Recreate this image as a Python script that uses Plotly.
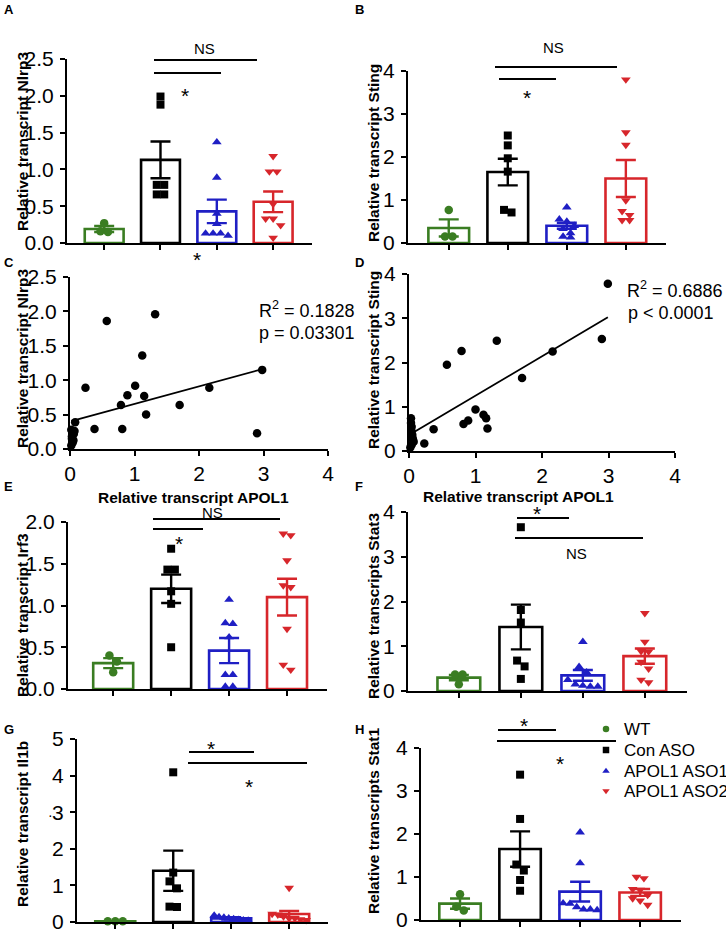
import plotly.graph_objects as go

W, H = 726, 930
FONT = "Arial, 'Liberation Sans', sans-serif"

groups = ["WT", "Con ASO", "APOL1 ASO1", "APOL1 ASO2"]
colors = ["#3a7d22", "#000000", "#1f1fc4", "#d7262b"]
symbols = ["circle", "square", "triangle-up", "triangle-down"]

# bar panels: individual mice, bar mean and SEM
nlrp3_pts = [[0.27, 0.16, 0.15],
             [1.99, 1.88, 0.79, 0.79, 0.66, 0.66],
             [1.37, 0.89, 0.40, 0.26, 0.13, 0.10, 0.13, 0.13],
             [1.18, 0.97, 0.97, 0.53, 0.33, 0.33, 0.24, 0.07]]
nlrp3_mean = [0.19, 1.13, 0.43, 0.56]
nlrp3_sem = [0.04, 0.25, 0.16, 0.14]

sting_pts = [[0.77, 0.15, 0.15],
             [2.50, 2.27, 1.97, 1.66, 0.77, 0.71],
             [0.83, 0.55, 0.50, 0.40, 0.33, 0.23, 0.13, 0.15],
             [3.80, 2.57, 2.28, 0.99, 0.74, 0.65, 0.53, 0.53]]
sting_mean = [0.35, 1.65, 0.40, 1.50]
sting_sem = [0.20, 0.31, 0.07, 0.43]

irf3_pts = [[0.40, 0.33, 0.20],
            [1.68, 1.43, 1.43, 1.17, 1.02, 0.50],
            [1.07, 0.79, 0.78, 0.62, 0.17, 0.17, 0.03, 0.03],
            [1.84, 1.86, 1.54, 1.24, 1.22, 0.72, 0.29, 0.23]]
irf3_mean = [0.31, 1.20, 0.46, 1.10]
irf3_sem = [0.06, 0.17, 0.15, 0.22]

stat3_pts = [[0.37, 0.37, 0.15],
             [3.66, 1.81, 1.53, 0.68, 0.55, 0.27],
             [1.10, 0.54, 0.42, 0.25, 0.15, 0.10, 0.10, 0.12],
             [1.74, 1.10, 0.89, 0.88, 0.65, 0.50, 0.25, 0.19]]
stat3_mean = [0.30, 1.43, 0.35, 0.78]
stat3_sem = [0.06, 0.50, 0.12, 0.17]

il1b_pts = [[0.02, 0.02, 0.02],
            [4.09, 1.35, 1.11, 0.92, 0.41, 0.42],
            [0.18, 0.14, 0.12, 0.10, 0.08, 0.06, 0.05, 0.04],
            [0.93, 0.22, 0.20, 0.15, 0.10, 0.05, 0.07, 0.10]]
il1b_mean = [0.02, 1.40, 0.10, 0.22]
il1b_sem = [0.005, 0.55, 0.03, 0.08]

stat1_pts = [[0.60, 0.31, 0.22],
             [3.38, 2.35, 1.29, 1.15, 0.93, 0.68],
             [2.04, 1.32, 0.39, 0.38, 0.30, 0.25, 0.25, 0.23],
             [1.00, 0.97, 0.72, 0.70, 0.58, 0.50, 0.45, 0.35]]
stat1_mean = [0.38, 1.65, 0.66, 0.64]
stat1_sem = [0.12, 0.41, 0.23, 0.08]

# correlation panels
apol1_c = [0.57, 1.32, 1.12, 0.24, 1.01, 0.89, 1.15, 0.79, 1.70, 2.16, 2.98, 1.18, 0.08,
           0.38, 0.81, 2.90, 0.02, 0.07, 0.03, 0.05, 0.04, 0.02, 0.05, 0.03, 0.06]
nlrp3_c = [1.86, 1.96, 1.36, 0.89, 0.92, 0.78, 0.77, 0.64, 0.64, 0.89, 1.15, 0.50, 0.39,
           0.29, 0.29, 0.23, 0.28, 0.26, 0.15, 0.12, 0.09, 0.05, 0.13, 0.18, 0.22]
fit_c = (0.40, 0.255)  # intercept, slope
apol1_d = [2.99, 2.90, 2.16, 1.32, 0.79, 0.57, 1.70, 1.00, 1.12, 1.16, 1.18, 0.89, 0.82,
           0.37, 0.23, 0.03, 0.03, 0.04, 0.04, 0.05, 0.06, 0.07, 0.04, 0.02, 0.05]
sting_d = [3.78, 2.53, 2.25, 2.49, 2.26, 1.95, 1.65, 0.94, 0.82, 0.74, 0.51, 0.69, 0.61,
           0.49, 0.17, 0.74, 0.63, 0.55, 0.44, 0.36, 0.26, 0.21, 0.14, 0.08, 0.30]
fit_d = (0.36, 0.89)


def px(x):
    return x / W


def py(y):
    return 1 - y / H


# pixel boxes: left, right, top (ymax), bottom (0)
panels = {
    "A": dict(box=(67, 312, 59, 243), xr=[-0.66, 3.69], yr=[0, 2.5], dt=0.5, fmt=".1f"),
    "B": dict(box=(408, 666, 71, 243), xr=[-0.69, 3.68], yr=[0, 4], dt=1, fmt="d"),
    "C": dict(box=(70, 328, 277, 449), xr=[0, 4], yr=[0, 2.5], dt=0.5, fmt=".1f"),
    "D": dict(box=(409, 675, 274, 451), xr=[0, 4], yr=[0, 4], dt=1, fmt="d"),
    "E": dict(box=(68, 327, 522, 689), xr=[-0.78, 3.69], yr=[0, 2], dt=0.5, fmt=".1f"),
    "F": dict(box=(408, 687, 512, 691), xr=[-0.82, 3.68], yr=[0, 4], dt=1, fmt="d"),
    "G": dict(box=(77, 328, 739, 922), xr=[-0.66, 3.67], yr=[0, 5], dt=1, fmt="d"),
    "H": dict(box=(421, 681, 748, 920), xr=[-0.65, 3.68], yr=[0, 4], dt=1, fmt="d"),
}

bar_data = {
    "A": (nlrp3_pts, nlrp3_mean, nlrp3_sem),
    "B": (sting_pts, sting_mean, sting_sem),
    "E": (irf3_pts, irf3_mean, irf3_sem),
    "F": (stat3_pts, stat3_mean, stat3_sem),
    "G": (il1b_pts, il1b_mean, il1b_sem),
    "H": (stat1_pts, stat1_mean, stat1_sem),
}


def spread(vals, ppu_y, ppu_x, d=7.5, maxw=34):
    # simple dot-plot spreading of points with similar values
    order = sorted(range(len(vals)), key=lambda i: -vals[i])
    offs = [0.0] * len(vals)
    bins = []
    for i in order:
        if bins and (vals[bins[-1][0]] - vals[i]) * ppu_y < d:
            bins[-1].append(i)
        else:
            bins.append([i])
    for b in bins:
        n = len(b)
        step = min(d, maxw / (n - 1)) if n > 1 else 0
        for k, i in enumerate(b):
            offs[i] = (k - (n - 1) / 2) * step / ppu_x
    return offs


fig = go.Figure()
layout = {}
axis_style = dict(showline=True, linewidth=2, linecolor="black", ticks="outside", ticklen=5,
                  tickwidth=2, tickcolor="black", showgrid=False, zeroline=False,
                  ticklabeloverflow="allow",
                  tickfont=dict(family=FONT, size=21, color="black"))

for n, (key, p) in enumerate(panels.items(), start=1):
    xl, xr, yt, yb = p["box"]
    sfx = "" if n == 1 else str(n)
    xa = dict(axis_style, domain=[px(xl), px(xr)], range=p["xr"], anchor="y" + sfx)
    ya = dict(axis_style, domain=[py(yb), py(yt)], range=p["yr"], anchor="x" + sfx,
              dtick=p["dt"], tickformat=p["fmt"], ticklabelstandoff=2)
    if key in ("C", "D"):
        xa.update(tickvals=[0, 1, 2, 3, 4])
    else:
        xa.update(tickvals=[0, 1, 2, 3], showticklabels=False)
    if key == "G":
        ya.update(tickmode="array", tickvals=[0, 1, 2, 3, 4, 5],
                  ticktext=["0", "1", "2", "3", "4", "5"])
    layout["xaxis" + sfx] = xa
    layout["yaxis" + sfx] = ya

    xs, ys = "x" + sfx, "y" + sfx
    ppu_y = (yb - yt) / (p["yr"][1] - p["yr"][0])
    ppu_x = (xr - xl) / (p["xr"][1] - p["xr"][0])

    if key in bar_data:
        pts, mean, sem = bar_data[key]
        for g in range(4):
            fig.add_trace(go.Bar(
                x=[g], y=[mean[g]], width=0.69, xaxis=xs, yaxis=ys,
                marker=dict(color="white", line=dict(color=colors[g], width=2.6)),
                error_y=dict(type="data", array=[sem[g]], color=colors[g], thickness=2.4, width=10),
                showlegend=False, hoverinfo="skip"))
        for g in range(4):
            offs = spread(pts[g], ppu_y, ppu_x)
            fig.add_trace(go.Scatter(
                x=[g + o for o in offs], y=pts[g], mode="markers", xaxis=xs, yaxis=ys,
                marker=dict(symbol=symbols[g], color=colors[g], size=8.5 if g != 1 else 8),
                name=groups[g], showlegend=False, cliponaxis=False))
    else:
        xv, yv, fit = (apol1_c, nlrp3_c, fit_c) if key == "C" else (apol1_d, sting_d, fit_d)
        x0, x1 = min(xv), max(xv)
        fig.add_trace(go.Scatter(x=[x0, x1], y=[fit[0] + fit[1] * x0, fit[0] + fit[1] * x1],
                                 mode="lines", line=dict(color="black", width=1.8),
                                 xaxis=xs, yaxis=ys, showlegend=False))
        fig.add_trace(go.Scatter(x=xv, y=yv, mode="markers", xaxis=xs, yaxis=ys,
                                 marker=dict(color="black", size=8.5), showlegend=False,
                                 cliponaxis=False))

# overlay axis in pixel units for the hand-made legend of panel H
layout["xaxis9"] = dict(domain=[0, 1], range=[0, W], visible=False, anchor="y9")
layout["yaxis9"] = dict(domain=[0, 1], range=[H, 0], visible=False, anchor="x9")
leg_y = [729, 750, 771, 791]
fig.add_trace(go.Scatter(x=[606] * 4, y=leg_y, mode="markers", xaxis="x9", yaxis="y9",
                         marker=dict(symbol=symbols, color=colors, size=6.5),
                         showlegend=False, hoverinfo="skip"))

ann = []
base = dict(showarrow=False, xref="paper", yref="paper", xanchor="center", yanchor="middle")
# y titles
ytitles = [("Relative transcript Nlrp3", 22, 141), ("Relative transcript Sting", 373, 153),
           ("Relative transcript Nlrp3", 22, 358), ("Relative transcript Sting", 373, 360),
           ("Relative transcript Irf3", 22, 615), ("Relative transcripts Stat3", 373, 606),
           ("Relative transcript Il1b", 22, 824), ("Relative transcripts Stat1", 373, 821)]
for t, x, y in ytitles:
    ann.append(dict(base, text="<b>%s</b>" % t, x=px(x), y=py(y), textangle=-90,
                    font=dict(family=FONT, size=15.5, color="black")))
# x titles of correlation panels
for x, y in [(193, 497), (518, 496)]:
    ann.append(dict(base, text="<b>Relative transcript APOL1</b>", x=px(x), y=py(y),
                    font=dict(family=FONT, size=15.5, color="black")))
# panel letters
for t, x, y in [("A", 2, 10), ("B", 353, 10), ("C", 2, 262), ("D", 353, 262),
                ("E", 2, 486), ("F", 353, 486), ("G", 2, 729), ("H", 353, 729)]:
    ann.append(dict(base, text="<b>%s</b>" % t, x=px(x), y=py(y), xanchor="left",
                    font=dict(family=FONT, size=13, color="black")))
# stray dot next to the "3" tick of panel G
ann.append(dict(base, text="·", x=px(50), y=py(815), font=dict(family=FONT, size=14, color="black")))
# significance marks
marks = [("NS", 204, 48), ("*", 185, 89), ("*", 197, 253),
         ("NS", 553, 47), ("*", 527, 92),
         ("NS", 212, 512), ("*", 179, 537),
         ("*", 537, 507), ("NS", 576, 553),
         ("*", 211, 742), ("*", 249, 780),
         ("*", 524, 719), ("*", 560, 757)]
for t, x, y in marks:
    if t == "*":
        ann.append(dict(base, text="*", x=px(x), y=py(y + 6),
                        font=dict(family=FONT, size=21, color="black")))
    else:
        ann.append(dict(base, text=t, x=px(x), y=py(y),
                        font=dict(family=FONT, size=15, color="black")))
# regression stats
for t, x, y in [("R<sup>2</sup> = 0.1828", 257, 310), ("p = 0.03301", 257, 333),
                ("R<sup>2</sup> = 0.6886", 625, 290), ("p < 0.0001", 626, 313)]:
    ann.append(dict(base, text=t, x=px(x), y=py(y), xanchor="left",
                    font=dict(family=FONT, size=18, color="black")))
# legend labels
for g, y in zip(groups, leg_y):
    ann.append(dict(base, text=g, x=px(622), y=py(y), xanchor="left",
                    font=dict(family=FONT, size=17, color="black")))

lines = [(154, 257, 60), (154, 221, 73), (495, 617, 67), (499, 556, 79),
         (153, 280, 519), (153, 203, 529), (517, 569, 518), (515, 643, 538),
         (189, 254, 752), (188, 307, 763), (498, 556, 730), (497, 616, 741)]
shapes = [dict(type="line", xref="paper", yref="paper", x0=px(a), x1=px(b), y0=py(y), y1=py(y),
               line=dict(color="black", width=2)) for a, b, y in lines]

fig.update_layout(
    **layout,
    width=W, height=H, margin=dict(l=0, r=0, t=0, b=0, autoexpand=False),
    plot_bgcolor="rgba(0,0,0,0)", paper_bgcolor="white",
    barmode="overlay", annotations=ann, shapes=shapes,
    font=dict(family=FONT, color="black"), showlegend=False,
)

# page default body margin would shift the 726x930 figure inside the window
fig.write_html("out.html", config={"displayModeBar": False},
               post_script="document.body.style.margin = '0';")
